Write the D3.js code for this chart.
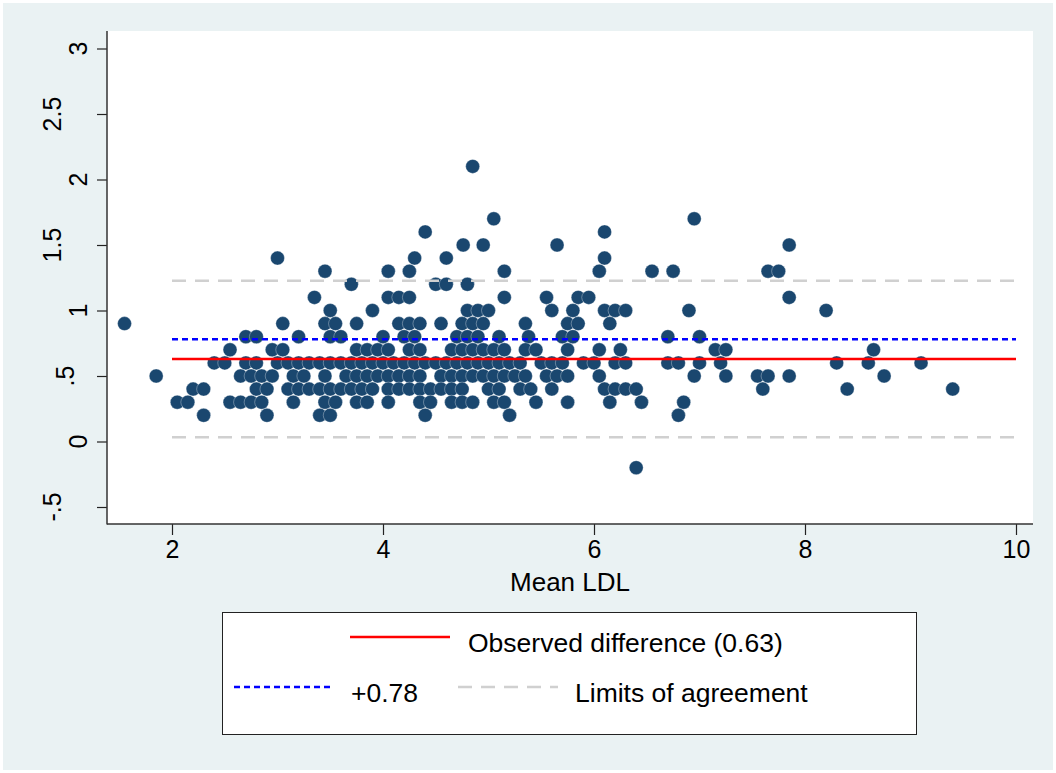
<!DOCTYPE html>
<html>
<head>
<meta charset="utf-8">
<script src="https://cdn.jsdelivr.net/npm/d3@7"></script>
<style>
  body { margin: 0; background: #fff; }
  svg { display: block; font-family: Arial, "Liberation Sans", sans-serif; }
</style>
</head>
<body>
<div id="chart"></div>
<script>
// mean LDL values, grouped by the difference they sit on (difference in 0.1 steps)
const diffLevels = [2.1, 1.7, 1.6, 1.5, 1.4, 1.3, 1.2, 1.1, 1.0, 0.9, 0.8, 0.7, 0.6, 0.5, 0.4, 0.3, 0.2, -0.2]
const mean_21 = [4.85]
const mean_17 = [5.05, 6.95]
const mean_16 = [4.40, 6.10]
const mean_15 = [4.76, 4.95, 5.65, 7.85]
const mean_14 = [3.00, 4.30, 4.60, 6.10]
const mean_13 = [3.45, 4.05, 4.25, 5.15, 6.05, 6.55, 6.75, 7.65, 7.75]
const mean_12 = [3.70, 4.50, 4.60, 4.80]
const mean_11 = [3.35, 4.05, 4.15, 4.25, 5.15, 5.55, 5.85, 5.95, 7.85]
const mean_10 = [3.50, 3.90, 4.80, 4.90, 5.00, 5.60, 5.80, 6.10, 6.20, 6.30, 6.90, 8.20]
const mean_09 = [1.55, 3.05, 3.45, 3.55, 3.75, 4.15, 4.25, 4.35, 4.55, 4.75, 4.85, 4.95, 5.35, 5.75, 5.85, 6.15]
const mean_08 = [2.70, 2.80, 3.20, 3.50, 3.60, 4.00, 4.20, 4.30, 4.70, 4.80, 4.90, 5.10, 5.38, 5.70, 5.80, 6.70, 7.00]
const mean_07 = [2.55, 2.95, 3.05, 3.75, 3.85, 3.95, 4.05, 4.25, 4.35, 4.65, 4.75, 4.85, 4.95, 5.05, 5.15, 5.35, 5.45, 5.75, 6.05, 6.25, 7.15, 7.25, 8.65]
const mean_06 = [2.40, 2.50, 2.70, 2.80, 3.00, 3.10, 3.20, 3.30, 3.40, 3.50, 3.60, 3.70, 3.80, 3.90, 4.00, 4.10, 4.20, 4.30, 4.40, 4.50, 4.60, 4.70, 4.80, 4.90, 5.00, 5.10, 5.20, 5.30, 5.50, 5.60, 5.70, 5.90, 6.00, 6.20, 6.30, 6.70, 6.80, 7.00, 7.20, 8.30, 8.60, 9.10]
const mean_05 = [1.85, 2.65, 2.75, 2.85, 2.95, 3.15, 3.25, 3.45, 3.65, 3.75, 3.85, 3.95, 4.05, 4.15, 4.25, 4.35, 4.55, 4.65, 4.75, 4.85, 4.95, 5.05, 5.15, 5.25, 5.35, 5.55, 5.65, 5.75, 6.05, 6.95, 7.25, 7.55, 7.65, 7.85, 8.75]
const mean_04 = [2.20, 2.30, 2.80, 2.90, 3.10, 3.20, 3.30, 3.40, 3.50, 3.60, 3.70, 3.80, 3.90, 4.05, 4.15, 4.25, 4.35, 4.45, 4.55, 4.65, 4.75, 5.00, 5.10, 5.30, 5.40, 5.60, 6.10, 6.20, 6.30, 6.40, 7.60, 8.40, 9.40]
const mean_03 = [2.05, 2.15, 2.55, 2.65, 2.75, 2.85, 3.15, 3.45, 3.55, 3.75, 3.85, 4.05, 4.35, 4.45, 4.65, 4.75, 4.85, 5.05, 5.15, 5.45, 5.75, 6.15, 6.45, 6.85]
const mean_02 = [2.30, 2.90, 3.40, 3.50, 4.40, 5.20, 6.80]
const mean_m02 = [6.40]
const meansByLevel = [mean_21, mean_17, mean_16, mean_15, mean_14, mean_13, mean_12, mean_11, mean_10,
    mean_09, mean_08, mean_07, mean_06, mean_05, mean_04, mean_03, mean_02, mean_m02]

const observedDiff = 0.63
const upperLine = 0.78
const limits = [0.033, 1.227]

const xTicks = [2, 4, 6, 8, 10]
const yTicks = [-0.5, 0, 0.5, 1, 1.5, 2, 2.5, 3]
const yTickLabels = ["-.5", "0", ".5", "1", "1.5", "2", "2.5", "3"]

const points = []
diffLevels.forEach((d, i) => meansByLevel[i].forEach(m => points.push({ mean: m, diff: d })))

const W = 1056, H = 773
const plot = { left: 107, right: 1033, top: 31, bottom: 524 }

const svg = d3.select("#chart").append("svg")
    .attr("width", W)
    .attr("height", H)

// stata-ish background
svg.append("rect").attr("x", 3).attr("y", 3).attr("width", W - 6).attr("height", H - 6).attr("fill", "#eaf2f3")
svg.append("rect")
    .attr("x", plot.left).attr("y", plot.top)
    .attr("width", plot.right - plot.left).attr("height", plot.bottom - plot.top)
    .attr("fill", "#fff")

const x = d3.scaleLinear().domain([2, 10]).range([172, 1016])
const y = d3.scaleLinear().domain([0, 1]).range([441.5, 310.5])

// x axis
const xAxis = svg.append("g")
    .attr("transform", `translate(0,${plot.bottom})`)
    .call(d3.axisBottom(x).tickValues(xTicks).tickSize(11).tickPadding(5).tickFormat(d3.format("d")))
xAxis.select(".domain").remove()
xAxis.selectAll(".tick line").attr("stroke", "#222").attr("stroke-width", 1.2)
xAxis.selectAll(".tick text").attr("fill", "#000").style("font-size", "25px").style("font-family", "Arial, 'Liberation Sans', sans-serif")

// y axis
const yAxis = svg.append("g")
    .attr("transform", `translate(${plot.left},0)`)
    .call(d3.axisLeft(y).tickValues(yTicks).tickSize(10).tickFormat(""))
yAxis.select(".domain").remove()
yAxis.selectAll(".tick line").attr("stroke", "#222").attr("stroke-width", 1.2)

// rotated y labels
svg.append("g").selectAll("text")
    .data(yTicks)
    .join("text")
    .attr("transform", (d, i) => {
        const len = yTickLabels[i].length
        const bx = len === 1 ? 87 : (len === 2 ? 74 : 61)
        return `translate(${bx},${y(d)}) rotate(-90)`
    })
    .attr("text-anchor", "middle")
    .style("font-size", "25px")
    .attr("fill", "#000")
    .text((d, i) => yTickLabels[i])

svg.append("line")
    .attr("x1", plot.left).attr("x2", plot.left)
    .attr("y1", plot.top).attr("y2", plot.bottom + 0.5)
    .attr("stroke", "#333").attr("stroke-width", 1.5)
svg.append("line")
    .attr("x1", plot.left).attr("x2", plot.right)
    .attr("y1", plot.bottom).attr("y2", plot.bottom)
    .attr("stroke", "#333").attr("stroke-width", 1.5)

svg.append("text")
    .attr("x", 570).attr("y", 591)
    .attr("text-anchor", "middle")
    .style("font-size", "26px")
    .text("Mean LDL")

// markers
svg.append("g").selectAll("circle")
    .data(points)
    .join("circle")
    .attr("cx", d => x(d.mean))
    .attr("cy", d => y(d.diff))
    .attr("r", 7)
    .attr("fill", "#1a476f")
    .attr("stroke", "#ffffff")
    .attr("stroke-opacity", 0.55)
    .attr("stroke-width", 0.6)

// reference lines
const refLine = (v, color, dash) => svg.append("line")
    .attr("x1", x(2)).attr("x2", x(10))
    .attr("y1", y(v)).attr("y2", y(v))
    .attr("stroke", color).attr("stroke-width", 2.6)
    .attr("stroke-dasharray", dash)

limits.forEach(v => refLine(v, "#d0d0d0", "14 9"))
refLine(upperLine, "#0000ff", "6 4")
refLine(observedDiff, "#ff0000", null)

// legend
const legend = svg.append("g")
legend.append("rect")
    .attr("x", 222.5).attr("y", 612.5).attr("width", 694).attr("height", 122)
    .attr("fill", "#fff").attr("stroke", "#222").attr("stroke-width", 1)

const legendItems = [
    { label: "Observed difference (0.63)", color: "#ff0000", dash: null, x1: 350, x2: 450, tx: 468, ty: 643 },
    { label: "+0.78", color: "#0000ff", dash: "6 4", x1: 234, x2: 333, tx: 351, ty: 693 },
    { label: "Limits of agreement", color: "#d0d0d0", dash: "14 9", x1: 458, x2: 558, tx: 575, ty: 693 },
]
legendItems.forEach(it => {
    legend.append("line")
        .attr("x1", it.x1).attr("x2", it.x2)
        .attr("y1", it.ty - 6).attr("y2", it.ty - 6)
        .attr("stroke", it.color).attr("stroke-width", 2.6)
        .attr("stroke-dasharray", it.dash)
    legend.append("text")
        .attr("x", it.tx).attr("y", it.ty + 9)
        .style("font-size", "26.5px")
        .attr("fill", "#000")
        .text(it.label)
})
</script>
</body>
</html>
